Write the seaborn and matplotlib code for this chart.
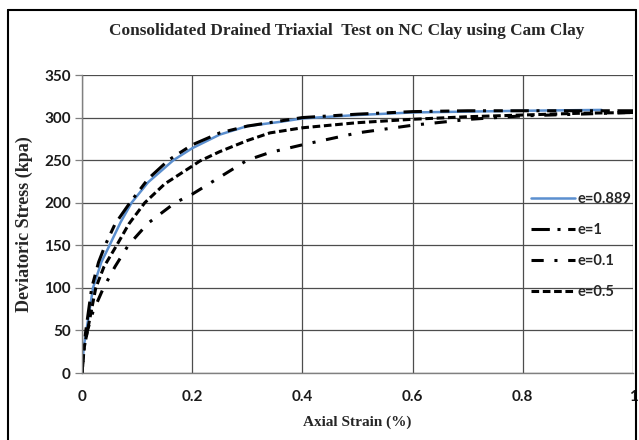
import numpy as np
import pandas as pd
import seaborn as sns
import matplotlib
matplotlib.use("Agg")
import matplotlib.pyplot as plt
from matplotlib.lines import Line2D

# ---- data ----
x_e0889 = [0, 0.003, 0.008, 0.02, 0.035, 0.05, 0.07, 0.09, 0.12, 0.166, 0.2, 0.25, 0.3, 0.36, 0.4, 0.5, 0.6, 0.7, 0.8, 0.943]
q_e0889 = [0, 30, 50, 100, 130, 150, 177, 200, 224, 250, 264, 280, 290, 295, 299, 303, 306, 307, 308, 309]

x_e1 = [0, 0.003, 0.008, 0.0176, 0.03, 0.042, 0.06, 0.087, 0.12, 0.157, 0.2, 0.25, 0.3, 0.36, 0.4, 0.5, 0.6, 0.7, 0.8, 0.9, 1.0]
q_e1 = [0, 30, 55, 100, 130, 150, 175, 200, 228, 250, 268, 282, 290, 296, 300, 304, 307, 308, 308, 308, 308]

x_e01 = [0, 0.004, 0.01, 0.02, 0.039, 0.06, 0.084, 0.12, 0.169, 0.2, 0.25, 0.3, 0.341, 0.4, 0.5, 0.6, 0.704, 0.8, 0.9, 1.0]
q_e01 = [0, 30, 50, 72, 100, 125, 150, 176, 200, 210, 230, 250, 259, 268, 282, 291, 298, 302, 304, 306]

x_e05 = [0, 0.004, 0.01, 0.025, 0.04, 0.063, 0.085, 0.114, 0.15, 0.2, 0.214, 0.25, 0.3, 0.341, 0.4, 0.5, 0.6, 0.7, 0.8, 0.9, 1.0]
q_e05 = [0, 30, 50, 100, 125, 150, 175, 200, 222, 243, 249, 260, 273, 282, 288, 294, 298, 301, 303, 305, 306]

labels = ["e=0.889", "e=1", "e=0.1", "e=0.5"]
x_ticks = [0, 0.2, 0.4, 0.6, 0.8, 1]
x_ticklabels = ["0", "0.2", "0.4", "0.6", "0.8", "1"]
y_ticks = [0, 50, 100, 150, 200, 250, 300, 350]

title = "Consolidated Drained Triaxial  Test on NC Clay using Cam Clay"
xlabel = "Axial Strain (%)"
ylabel = "Deviatoric Stress (kpa)"

# ---- figure ----
sns.set_style("white")
plt.rcParams["font.family"] = ["DejaVu Sans"]

fig = plt.figure(figsize=(6.39, 4.40), dpi=100)
ax = fig.add_axes([82/639, 1-373/440, (633-82)/639, (373-75)/440])

serif = "Liberation Serif"
tickfont = "Lato"

series = [
    (x_e0889, q_e0889, labels[0], "#5b8fcf", 1.8, "-"),
    (x_e1, q_e1, labels[1], "black", 2.2, (0, (6, 2.5, 1, 2.5, 3, 2.5))),
    (x_e01, q_e01, labels[2], "black", 2.2, (0, (4, 3.5, 1, 3.5))),
    (x_e05, q_e05, labels[3], "black", 2.2, (0, (2.5, 1.2))),
]
for xs, qs, lab, col, lw, ls in series:
    df = pd.DataFrame({"strain": xs, "q": qs})
    sns.lineplot(data=df, x="strain", y="q", ax=ax, color=col, linewidth=lw,
                 linestyle=ls, label=lab, estimator=None, sort=False)

ax.set_xlim(0, 1)
ax.set_ylim(0, 350)
ax.set_xticks(x_ticks)
ax.set_xticklabels(x_ticklabels)
ax.set_yticks(y_ticks)
ax.grid(True, color="#4d4d4d", linewidth=0.9)
ax.set_axisbelow(True)
for s in ["top", "right"]:
    ax.spines[s].set_visible(False)
for s in ["left", "bottom"]:
    ax.spines[s].set_color("#808080")
    ax.spines[s].set_linewidth(1.0)
ax.tick_params(axis="y", which="both", left=True, length=5, width=0.9, color="#808080", pad=3)
ax.tick_params(axis="x", which="both", bottom=False, pad=9)
for t in ax.get_xticklabels() + ax.get_yticklabels():
    t.set_fontfamily(tickfont)
    t.set_fontweight("bold")
    t.set_fontsize(11)
    t.set_color("#1a1a1a")

ax.set_xlabel(xlabel, fontfamily=serif, fontweight="bold", fontsize=11, labelpad=8)
ax.set_ylabel(ylabel, fontfamily=serif, fontweight="bold", fontsize=13, labelpad=8)

fig.text(347/639, 1-31/440, title, ha="center", va="center", fontfamily=serif,
         fontweight="bold", fontsize=12.4)

leg = ax.legend(loc="center left", bbox_to_anchor=(0.815, 0.428), frameon=False,
                borderpad=0, borderaxespad=0, handlelength=3.0, handletextpad=0.2,
                labelspacing=1.15, prop={"family": tickfont, "weight": "bold", "size": 10.5})

# figure border
lw_b = 1.5
fig.add_artist(Line2D([8/639, 8/639], [0, 1-10/440], color="black", linewidth=lw_b))
fig.add_artist(Line2D([8/639, 636/639], [1-10/440, 1-10/440], color="black", linewidth=lw_b))
fig.add_artist(Line2D([636/639, 636/639], [0, 1-10/440], color="black", linewidth=lw_b))

fig.savefig("out.png", dpi=100)
